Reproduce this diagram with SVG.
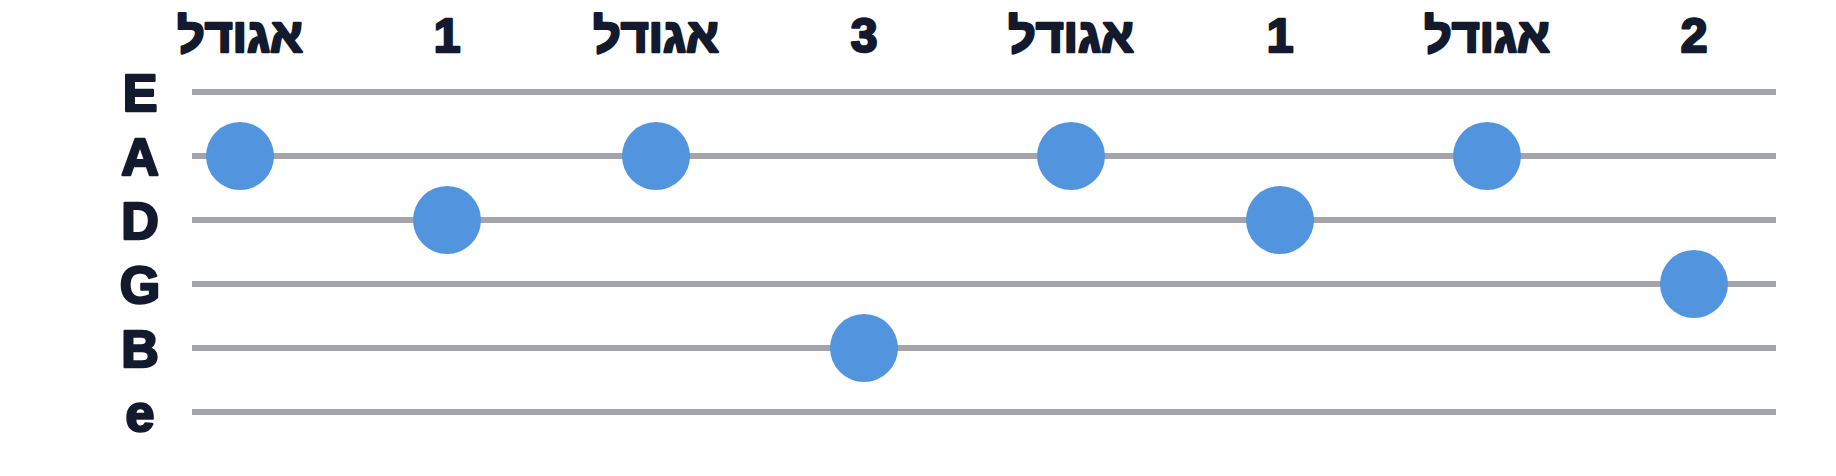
<svg xmlns="http://www.w3.org/2000/svg" width="1836" height="476" viewBox="0 0 1836 476">
<style>
.t{font-family:"Liberation Sans","DejaVu Sans",sans-serif;font-weight:bold;fill:#141a2e;stroke:#141a2e;stroke-width:2.5;stroke-linejoin:round;text-anchor:middle}
.h{font-size:48px}
.s{font-size:52px}
.l{stroke:#a3a5ab;stroke-width:6}
.d{fill:#5294dd}
</style>
<rect width="1836" height="476" fill="#fff"/>
<g id="strings">
<text class="t s" x="140" y="111">E</text>
<text class="t s" x="140" y="175">A</text>
<text class="t s" x="140" y="239">D</text>
<text class="t s" x="140" y="303">G</text>
<text class="t s" x="140" y="367">B</text>
<text class="t s" x="140" y="431">e</text>
</g>
<g id="connectors">
<line class="l" x1="192" y1="92" x2="1776" y2="92"/>
<line class="l" x1="192" y1="156" x2="1776" y2="156"/>
<line class="l" x1="192" y1="220" x2="1776" y2="220"/>
<line class="l" x1="192" y1="284" x2="1776" y2="284"/>
<line class="l" x1="192" y1="348" x2="1776" y2="348"/>
<line class="l" x1="192" y1="412" x2="1776" y2="412"/>
</g>
<g id="fingers">
<text class="t h" x="240" y="52">אגודל</text>
<text class="t h" x="447" y="52">1</text>
<text class="t h" x="656" y="52">אגודל</text>
<text class="t h" x="864" y="52">3</text>
<text class="t h" x="1071" y="52">אגודל</text>
<text class="t h" x="1280" y="52">1</text>
<text class="t h" x="1487" y="52">אגודל</text>
<text class="t h" x="1694" y="52">2</text>
</g>
<g id="notes">
<circle class="d" cx="240" cy="156" r="34"/>
<circle class="d" cx="447" cy="220" r="34"/>
<circle class="d" cx="656" cy="156" r="34"/>
<circle class="d" cx="864" cy="348" r="34"/>
<circle class="d" cx="1071" cy="156" r="34"/>
<circle class="d" cx="1280" cy="220" r="34"/>
<circle class="d" cx="1487" cy="156" r="34"/>
<circle class="d" cx="1694" cy="284" r="34"/>
</g>
</svg>
